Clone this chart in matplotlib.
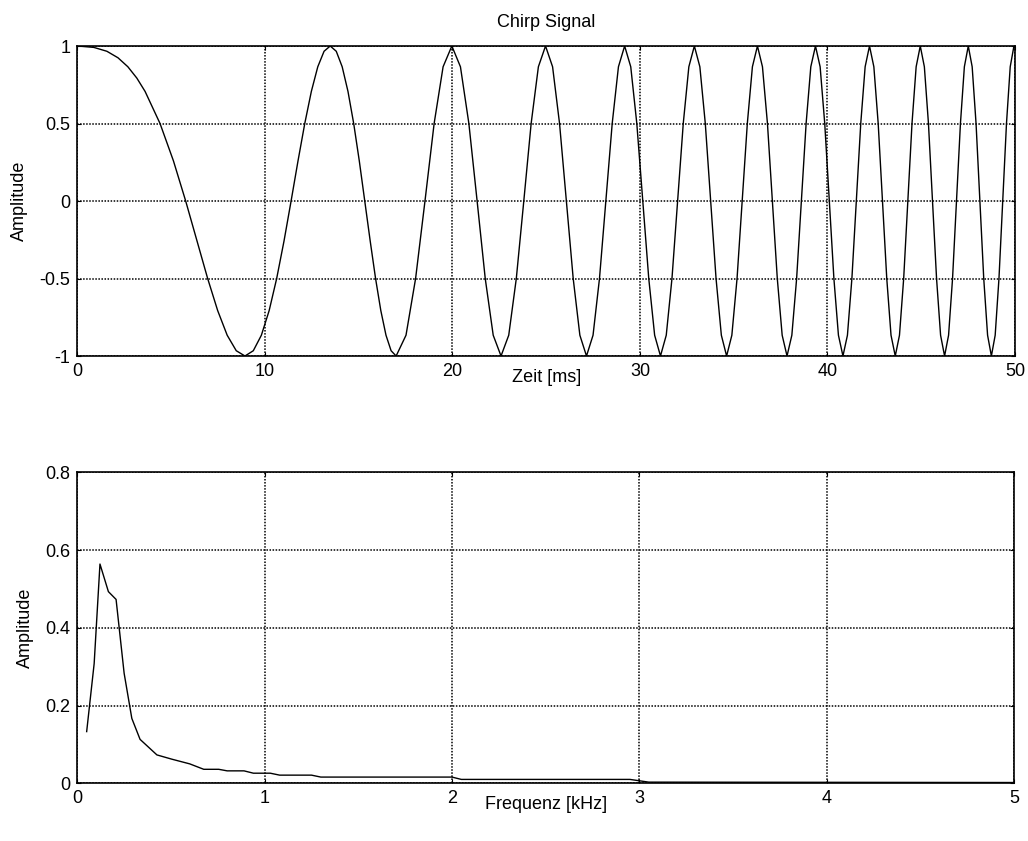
import matplotlib
matplotlib.use("Agg")
import matplotlib.pyplot as plt

plt.rcParams['font.family'] = ['Liberation Sans', 'DejaVu Sans']
plt.rcParams['axes.unicode_minus'] = False

# ---- Chirp signal: time [ms] and amplitude ----
zeit_ms = [
    0.000, 0.881, 1.577, 2.170, 2.696, 3.174, 3.614, 4.411, 5.126, 5.779,
    6.384, 6.951, 7.485, 7.992, 8.476, 8.940, 9.385, 9.815, 10.230, 10.631,
    11.021, 11.400, 11.769, 12.129, 12.480, 12.823, 13.158, 13.486, 13.808, 14.124,
    14.433, 14.738, 15.036, 15.330, 15.619, 15.904, 16.184, 16.460, 16.732, 17.001,
    17.527, 18.039, 18.539, 19.027, 19.505, 19.972, 20.430, 20.879, 21.319, 21.752,
    22.177, 22.594, 23.005, 23.409, 23.808, 24.200, 24.586, 24.967, 25.343, 25.714,
    26.080, 26.442, 26.798, 27.151, 27.500, 27.844, 28.185, 28.522, 28.855, 29.185,
    29.511, 29.834, 30.154, 30.471, 30.785, 31.096, 31.404, 31.709, 32.011, 32.311,
    32.609, 32.903, 33.196, 33.486, 33.774, 34.059, 34.342, 34.623, 34.902, 35.179,
    35.454, 35.727, 35.998, 36.267, 36.534, 36.800, 37.063, 37.325, 37.585, 37.844,
    38.101, 38.356, 38.610, 38.862, 39.112, 39.361, 39.609, 39.855, 40.100, 40.343,
    40.585, 40.826, 41.065, 41.303, 41.540, 41.775, 42.009, 42.242, 42.474, 42.705,
    42.934, 43.162, 43.389, 43.615, 43.840, 44.064, 44.287, 44.508, 44.729, 44.949,
    45.167, 45.385, 45.601, 45.817, 46.032, 46.245, 46.458, 46.670, 46.881, 47.091,
    47.300, 47.509, 47.716, 47.923, 48.128, 48.333, 48.538, 48.741, 48.943, 49.145,
    49.346, 49.546, 49.745, 49.944, 50.000,
]
chirp_amp = [
    1.0, 0.991, 0.966, 0.924, 0.866, 0.793, 0.707, 0.5, 0.259, 0.0,
    -0.259, -0.5, -0.707, -0.866, -0.966, -1.0, -0.966, -0.866, -0.707, -0.5,
    -0.259, 0.0, 0.259, 0.5, 0.707, 0.866, 0.966, 1.0, 0.966, 0.866,
    0.707, 0.5, 0.259, 0.0, -0.259, -0.5, -0.707, -0.866, -0.966, -1.0,
    -0.866, -0.5, 0.0, 0.5, 0.866, 1.0, 0.866, 0.5, 0.0, -0.5, -0.866, -1.0,
    -0.866, -0.5, 0.0, 0.5, 0.866, 1.0, 0.866, 0.5, 0.0, -0.5, -0.866, -1.0,
    -0.866, -0.5, 0.0, 0.5, 0.866, 1.0, 0.866, 0.5, 0.0, -0.5, -0.866, -1.0,
    -0.866, -0.5, 0.0, 0.5, 0.866, 1.0, 0.866, 0.5, 0.0, -0.5, -0.866, -1.0,
    -0.866, -0.5, 0.0, 0.5, 0.866, 1.0, 0.866, 0.5, 0.0, -0.5, -0.866, -1.0,
    -0.866, -0.5, 0.0, 0.5, 0.866, 1.0, 0.866, 0.5, 0.0, -0.5, -0.866, -1.0,
    -0.866, -0.5, 0.0, 0.5, 0.866, 1.0, 0.866, 0.5, 0.0, -0.5, -0.866, -1.0,
    -0.866, -0.5, 0.0, 0.5, 0.866, 1.0, 0.866, 0.5, 0.0, -0.5, -0.866, -1.0,
    -0.866, -0.5, 0.0, 0.5, 0.866, 1.0, 0.866, 0.5, 0.0, -0.5, -0.866, -1.0,
    -0.866, -0.5, 0.0, 0.5, 0.866, 1.0, 0.989,
]

# ---- Spectrum: frequency [kHz] and amplitude ----
freq_khz = [0.05, 0.09, 0.121, 0.166, 0.207, 0.25, 0.291, 0.335, 0.425, 0.505,
            0.6, 0.675, 0.755, 0.8, 0.89, 0.94, 1.03, 1.08, 1.25, 1.3,
            2.0, 2.05, 2.95, 3.05, 5.0]
spec_amp = [0.133, 0.308, 0.564, 0.493, 0.473, 0.283, 0.167, 0.113, 0.073, 0.062,
            0.05, 0.036, 0.036, 0.032, 0.032, 0.026, 0.026, 0.021, 0.021, 0.016,
            0.016, 0.01, 0.01, 0.003, 0.002]

# ---- Tick labels ----
top_xticks = [0, 10, 20, 30, 40, 50]
top_xlabels = ['0', '10', '20', '30', '40', '50']
top_yticks = [-1, -0.5, 0, 0.5, 1]
top_ylabels = ['-1', '-0.5', '0', '0.5', '1']
bot_xticks = [0, 1, 2, 3, 4, 5]
bot_xlabels = ['0', '1', '2', '3', '4', '5']
bot_yticks = [0, 0.2, 0.4, 0.6, 0.8]
bot_ylabels = ['0', '0.2', '0.4', '0.6', '0.8']

FS = 13
W, H = 1028, 841
fig = plt.figure(figsize=(W / 100, H / 100), dpi=100)

ax1 = fig.add_axes([77.3 / W, 1 - 356 / H, (1015 - 77.3) / W, 310 / H])
ax2 = fig.add_axes([77.3 / W, 1 - 783.3 / H, (1014 - 77.3) / W, 311 / H])

grid_kw = dict(color='black', linestyle=(0, (1, 1)), linewidth=1.1)

def style(ax, xt, xl, yt, yl, xlim, ylim):
    ax.set_xlim(*xlim)
    ax.set_ylim(*ylim)
    ax.set_xticks(xt)
    ax.set_xticklabels(xl)
    ax.set_yticks(yt)
    ax.set_yticklabels(yl)
    ax.grid(True, **grid_kw)
    ax.set_axisbelow(True)
    ax.tick_params(direction='in', length=3, width=0.8, top=True, right=True,
                   labelsize=FS, pad=5, colors='black')
    for s in ax.spines.values():
        s.set_linewidth(1.2)
        s.set_color('black')

ax1.plot(zeit_ms, chirp_amp, color='black', linewidth=1.0)
style(ax1, top_xticks, top_xlabels, top_yticks, top_ylabels, (0, 50), (-1, 1))
ax1.set_title('Chirp Signal', fontsize=FS, pad=14)
ax1.set_xlabel('Zeit [ms]', fontsize=FS, labelpad=-8)
ax1.set_ylabel('Amplitude', fontsize=FS, labelpad=8)

ax2.plot(freq_khz, spec_amp, color='black', linewidth=1.0)
style(ax2, bot_xticks, bot_xlabels, bot_yticks, bot_ylabels, (0, 5), (0, 0.8))
ax2.set_xlabel('Frequenz [kHz]', fontsize=FS, labelpad=-8)
ax2.set_ylabel('Amplitude', fontsize=FS, labelpad=8)

fig.savefig('out.png', dpi=100)
